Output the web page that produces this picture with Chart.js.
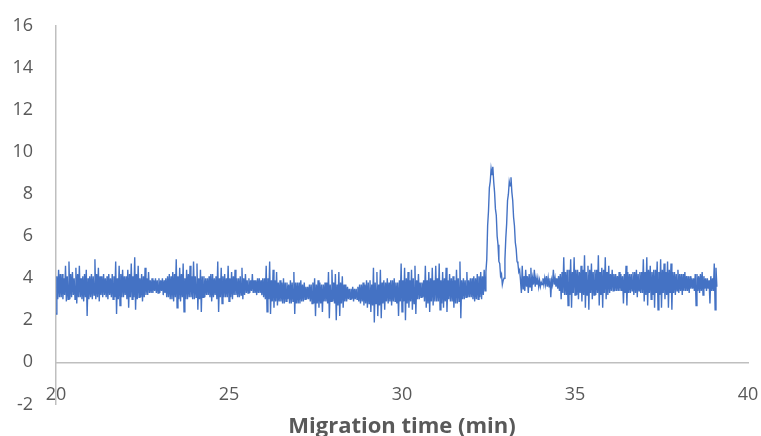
<!DOCTYPE html>
<html>
<head>
<meta charset="utf-8">
<script src="https://cdn.jsdelivr.net/npm/chart.js@4.4.1/dist/chart.umd.min.js"></script>
<style>
  html, body { margin: 0; padding: 0; background: #ffffff; }
  #wrap { width: 761px; height: 436px; }
</style>
</head>
<body>
<div id="wrap"><canvas id="electropherogram"></canvas></div>
<script>
// detector trace, one reading every 0.025 min starting at 20 min
const startTime = 20.0;
const sampleStep = 0.025;
const signal = [
  // 20-21
  2.3, 4.1, 3.0, 4.4, 3.1, 4.2, 3.1, 4.2, 3.0, 4.0, 3.2, 4.6, 2.9, 4.1, 3.0, 4.8, 3.0, 4.2, 3.1, 4.3,
  3.2, 4.0, 3.0, 4.5, 2.8, 4.2, 3.1, 4.6, 3.1, 4.0, 3.0, 4.1, 2.9, 4.2, 3.1, 4.4, 2.2, 4.0, 3.0, 4.1,
  // 21-22
  3.1, 4.2, 3.0, 4.1, 3.2, 4.9, 3.0, 4.2, 3.1, 4.5, 2.9, 4.1, 3.2, 4.1, 3.1, 4.2, 3.2, 4.0, 3.1, 4.1,
  3.0, 4.2, 3.2, 4.0, 3.1, 4.2, 3.0, 4.1, 3.1, 4.8, 2.3, 4.0, 3.0, 4.6, 2.7, 4.2, 3.1, 4.4, 3.1, 4.1,
  // 22-23
  3.2, 4.1, 3.0, 4.4, 2.6, 4.2, 3.1, 4.7, 3.0, 4.1, 3.1, 5.0, 2.5, 4.2, 3.0, 4.6, 3.1, 4.0, 3.1, 4.2,
  2.9, 4.1, 3.1, 4.5, 3.2, 4.0, 3.2, 4.3, 3.3, 3.9, 3.3, 4.0, 3.3, 3.9, 3.4, 4.0, 3.3, 3.9, 3.3, 4.0,
  // 23-24
  3.3, 3.9, 3.4, 4.0, 3.2, 3.9, 3.3, 4.0, 3.1, 4.1, 3.1, 4.2, 3.0, 4.1, 3.0, 4.3, 2.9, 4.2, 3.1, 4.9,
  2.6, 4.1, 3.0, 4.5, 2.9, 4.2, 3.1, 4.7, 2.4, 4.0, 3.0, 4.4, 3.0, 4.2, 3.1, 4.6, 3.1, 4.1, 3.0, 4.8,
  // 24-25
  3.0, 4.1, 3.1, 4.7, 2.5, 4.0, 3.0, 4.4, 2.4, 4.1, 3.1, 4.1, 3.1, 4.0, 3.2, 4.0, 3.2, 4.1, 3.1, 4.2,
  2.9, 4.2, 3.1, 4.0, 3.2, 4.1, 3.0, 4.8, 2.4, 4.0, 3.1, 4.5, 2.8, 4.1, 3.1, 4.2, 3.1, 4.0, 3.1, 4.6,
  // 25-26
  2.9, 4.0, 3.1, 4.3, 3.0, 4.1, 3.2, 4.4, 3.2, 4.0, 3.1, 4.0, 3.1, 4.1, 3.2, 4.5, 3.0, 4.0, 3.2, 4.2,
  3.3, 3.9, 3.3, 4.0, 3.3, 3.9, 3.4, 4.2, 3.3, 3.9, 3.3, 3.9, 3.2, 4.0, 3.3, 4.0, 3.3, 3.9, 3.2, 4.0,
  // 26-27
  3.1, 4.0, 3.0, 4.6, 2.4, 4.0, 3.0, 4.8, 2.3, 3.9, 2.9, 4.4, 2.6, 3.9, 2.9, 4.3, 2.7, 3.8, 2.9, 3.9,
  2.9, 3.8, 2.8, 4.0, 2.8, 3.8, 2.9, 3.8, 3.0, 3.7, 2.8, 3.9, 2.8, 3.8, 2.9, 4.3, 2.3, 3.8, 2.8, 3.8,
  // 27-28
  2.8, 3.8, 2.8, 3.9, 2.9, 3.7, 2.9, 3.8, 3.0, 3.6, 3.0, 3.6, 3.0, 3.7, 2.9, 3.7, 2.8, 3.8, 2.8, 4.0,
  2.2, 3.7, 2.8, 3.9, 2.6, 3.8, 2.8, 3.7, 2.4, 3.7, 2.9, 3.8, 2.9, 3.8, 2.8, 4.3, 2.1, 3.7, 2.9, 4.4,
  // 28-29
  2.9, 3.8, 2.8, 4.2, 2.0, 3.7, 2.7, 4.3, 2.2, 3.8, 2.8, 4.1, 2.6, 3.7, 2.9, 3.7, 2.9, 3.6, 3.0, 3.5,
  3.0, 3.5, 3.0, 3.6, 2.9, 3.5, 3.0, 3.5, 3.0, 3.6, 2.9, 3.7, 2.8, 3.7, 2.9, 3.8, 2.7, 3.7, 2.8, 3.9,
  // 29-30
  2.6, 3.8, 2.8, 3.9, 2.4, 3.7, 2.7, 4.5, 1.9, 3.8, 2.8, 4.3, 2.2, 3.7, 2.7, 4.4, 2.1, 3.8, 2.8, 3.9,
  2.5, 3.8, 2.9, 4.0, 2.8, 3.8, 2.9, 3.9, 2.7, 3.9, 2.9, 4.0, 2.9, 3.8, 2.8, 3.8, 2.2, 3.9, 2.9, 4.7,
  // 30-31
  2.4, 3.9, 2.9, 4.5, 2.0, 4.0, 2.8, 4.3, 2.6, 3.9, 2.9, 4.4, 2.5, 4.0, 2.8, 4.6, 2.3, 3.9, 3.0, 4.2,
  3.0, 3.8, 3.1, 3.8, 3.1, 3.9, 2.9, 4.6, 2.6, 3.9, 2.8, 4.3, 2.4, 4.0, 2.9, 4.5, 2.7, 3.9, 2.9, 4.6,
  // 31-32
  2.9, 4.0, 2.9, 4.7, 2.5, 3.9, 2.8, 4.3, 2.6, 4.0, 2.9, 4.5, 2.4, 3.9, 3.0, 4.2, 2.9, 4.0, 2.9, 4.1,
  2.6, 3.9, 2.8, 4.4, 2.8, 4.0, 2.9, 4.8, 2.1, 3.9, 3.0, 4.0, 3.0, 3.9, 3.1, 4.3, 3.1, 3.9, 3.1, 4.0,
  // 32-33 (first peak)
  3.1, 4.0, 3.0, 4.1, 2.9, 4.0, 3.0, 4.2, 3.0, 4.1, 3.1, 4.3, 3.0, 4.1, 3.2, 4.4, 3.4, 4.3, 4.9, 6.5,
  7.2, 8.3, 8.6, 9.2, 8.9, 9.3, 8.6, 8.1, 7.3, 7.0, 6.0, 5.6, 4.8, 4.7, 4.1, 4.2, 3.7, 3.9, 4.0, 4.9,
  // 33-34 (second peak)
  5.9, 6.6, 7.7, 8.0, 8.6, 8.4, 8.8, 8.1, 7.7, 6.9, 6.5, 5.7, 5.4, 4.8, 4.7, 4.3, 4.4, 3.9, 3.3, 4.6,
  3.5, 4.1, 3.4, 4.4, 3.6, 4.1, 3.3, 4.2, 3.6, 4.5, 3.4, 4.0, 3.7, 4.4, 3.6, 4.0, 3.7, 4.0, 3.6, 3.9,
  // 34-35
  3.6, 3.8, 3.7, 4.0, 3.7, 4.0, 3.7, 4.1, 3.6, 4.0, 3.6, 4.0, 3.1, 3.9, 3.7, 4.4, 3.7, 4.0, 3.6, 4.0,
  3.5, 4.1, 3.4, 4.2, 3.0, 4.3, 3.3, 5.0, 3.2, 4.3, 3.2, 4.4, 2.7, 4.4, 3.2, 4.9, 2.6, 4.3, 3.3, 5.0,
  // 35-36
  3.2, 4.4, 3.2, 4.4, 3.0, 4.3, 3.3, 4.6, 2.9, 4.4, 3.2, 5.1, 2.6, 4.3, 3.2, 4.6, 2.5, 4.4, 3.3, 4.7,
  3.0, 4.3, 3.2, 4.4, 3.2, 4.4, 3.3, 5.1, 2.7, 4.3, 3.2, 4.5, 2.6, 4.4, 3.3, 5.0, 3.0, 4.3, 3.2, 4.6,
  // 36-37
  3.3, 4.2, 3.4, 4.4, 3.4, 4.2, 3.4, 4.2, 3.4, 4.1, 3.4, 4.3, 3.4, 4.2, 3.4, 4.1, 2.8, 4.2, 3.3, 4.6,
  2.7, 4.3, 3.3, 4.2, 3.3, 4.2, 3.4, 4.3, 3.2, 4.3, 3.3, 4.4, 3.1, 4.2, 3.4, 4.3, 3.3, 4.3, 3.3, 4.9,
  // 37-38
  2.9, 4.3, 3.2, 5.0, 2.7, 4.4, 3.3, 4.6, 3.0, 4.3, 3.2, 4.4, 2.6, 4.4, 3.3, 4.8, 2.5, 4.3, 3.2, 4.9,
  2.6, 4.4, 3.3, 4.7, 3.0, 4.3, 3.2, 4.8, 2.6, 4.4, 3.3, 4.7, 2.5, 4.3, 3.3, 4.3, 3.2, 4.2, 3.4, 4.4,
  // 38-39
  3.3, 4.2, 3.4, 4.2, 3.2, 4.2, 3.4, 4.3, 3.4, 4.1, 3.4, 4.1, 3.3, 4.1, 3.5, 4.0, 3.5, 4.0, 3.4, 4.2,
  2.7, 4.2, 3.4, 4.1, 3.3, 4.2, 3.4, 4.3, 3.2, 4.1, 3.5, 4.0, 3.4, 4.0, 3.5, 3.9, 2.8, 4.1, 3.4, 4.0,
  // 39-39.1
  3.4, 4.7, 2.5, 4.5, 3.6
];
const xTickValues = [20, 25, 30, 35, 40];
const yTickValues = [-2, 0, 2, 4, 6, 8, 10, 12, 14, 16];
const xTitle = "Migration time (min)";

const points = signal.map((v, i) => ({ x: +(startTime + i * sampleStep).toFixed(3), y: v }));

const tickFont = { family: "'Open Sans', sans-serif", size: 18 };
const tickColor = "#595959";
const axisColor = "#bfbfbf";

new Chart(document.getElementById("electropherogram"), {
  type: "line",
  data: {
    datasets: [{
      data: points,
      borderColor: "#4472C4",
      borderWidth: 1.4,
      pointRadius: 0,
      tension: 0,
      fill: false
    }]
  },
  options: {
    responsive: true,
    maintainAspectRatio: false,
    animation: false,
    events: [],
    layout: { padding: { left: 12, right: 13, top: 26, bottom: 0 } },
    plugins: {
      legend: { display: false },
      tooltip: { enabled: false },
      title: {
        display: true,
        position: "bottom",
        fullSize: false,
        text: xTitle,
        color: tickColor,
        font: { family: "'Open Sans', sans-serif", size: 22, weight: "bold", lineHeight: 0.8 },
        padding: { top: 14, bottom: 0 }
      }
    },
    scales: {
      x: {
        type: "linear",
        position: { y: 0 },
        min: 20,
        max: 40,
        afterBuildTicks: (axis) => { axis.ticks = xTickValues.map((v) => ({ value: v })); },
        afterFit: (axis) => { axis.paddingLeft = 0; axis.paddingRight = 0; },
        grid: { display: false, drawTicks: false },
        border: { display: true, color: axisColor, width: 1.5 },
        ticks: { font: tickFont, color: tickColor, padding: 22, maxRotation: 0 }
      },
      y: {
        type: "linear",
        position: "left",
        min: -2,
        max: 16,
        afterBuildTicks: (axis) => { axis.ticks = yTickValues.map((v) => ({ value: v })); },
        afterFit: (axis) => { axis.width = 44; axis.paddingTop = 10; axis.paddingBottom = 10; },
        grid: { display: false, drawTicks: false },
        border: { display: true, color: axisColor, width: 1.5 },
        ticks: { font: tickFont, color: tickColor, padding: 23 }
      }
    }
  }
});
</script>
</body>
</html>
